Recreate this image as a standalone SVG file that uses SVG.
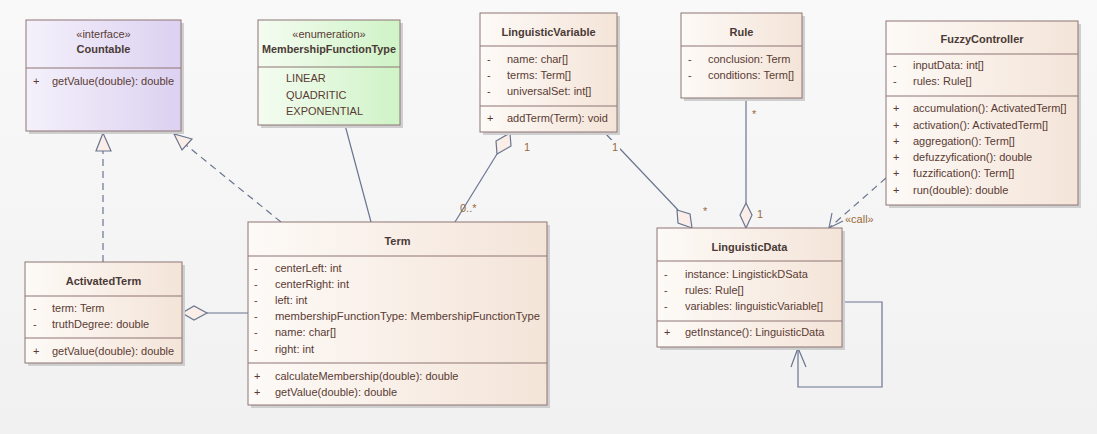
<svg xmlns="http://www.w3.org/2000/svg" width="1097" height="434" viewBox="0 0 1097 434">
<defs>
<linearGradient id="gc" x1="0" y1="0" x2="1" y2="0"><stop offset="0" stop-color="#fdfaf7"/><stop offset="1" stop-color="#f4e4d8"/></linearGradient>
<linearGradient id="gi" x1="0" y1="0" x2="1" y2="0"><stop offset="0" stop-color="#f4f1fb"/><stop offset="1" stop-color="#dcd1f1"/></linearGradient>
<linearGradient id="ge" x1="0" y1="0" x2="1" y2="0"><stop offset="0" stop-color="#f4fcf1"/><stop offset="1" stop-color="#cff3c6"/></linearGradient>
<linearGradient id="gb" x1="0" y1="0" x2="0" y2="1"><stop offset="0" stop-color="#f9f9f9"/><stop offset="1" stop-color="#f1f1f1"/></linearGradient>
<style>
.box{stroke:#8e7474;stroke-width:1}
.sh{fill:#cfcfcf}
.div{stroke:#8e7474;stroke-width:1}
text{font-family:"Liberation Sans",Arial,sans-serif;font-size:11px;fill:#5a3b33}
.t{font-weight:bold;text-anchor:middle;fill:#4a3a36}
.st{text-anchor:middle;fill:#5a3b33}
.lb{fill:#9a6a3a;font-size:11px}
.ln{stroke:#6a7590;stroke-width:1.2;fill:none}
.dash{stroke-dasharray:7,5}
.hd{stroke:#6a7590;stroke-width:1.2;fill:#fbeee8}
</style>
</defs>
<rect width="1097" height="434" fill="url(#gb)"/>

<g id="connectors">
<line class="ln dash" x1="103" y1="262" x2="103" y2="151"/>
<polygon class="hd" points="103,133 96,151 111,151"/>
<line class="ln dash" x1="281" y1="222" x2="186" y2="145"/>
<polygon class="hd" points="174,134 182,150 192,139"/>
<line class="ln" x1="371" y1="222" x2="345" y2="125"/>
<line class="ln" x1="497" y1="154" x2="455" y2="222"/>
<polygon class="hd" points="510,133 511,146 497,154 496,141"/>
<text class="lb" x="524" y="151">1</text>
<text class="lb" x="460" y="212">0..*</text>
<line class="ln" x1="605" y1="133" x2="678" y2="210"/>
<polygon class="hd" points="692,228 678,223 677,210 690,214"/>
<rect x="611" y="140" width="9" height="13" fill="#f6f6f6"/>
<text class="lb" x="612" y="151">1</text>
<text class="lb" x="703" y="215">*</text>
<line class="ln" x1="746" y1="99" x2="746" y2="203"/>
<polygon class="hd" points="746,228 740,215 746,203 752,215"/>
<text class="lb" x="752" y="118">*</text>
<text class="lb" x="757" y="218">1</text>
<line class="ln dash" x1="886" y1="178" x2="829" y2="228"/>
<polyline class="ln" points="832,213 829,228 843,221"/>
<text class="lb" x="845" y="223">«call»</text>
<line class="ln" x1="207" y1="313" x2="248" y2="313"/>
<polygon class="hd" points="182,313 194,306 207,313 194,320"/>
<polyline class="ln" points="842,302 882,302 882,387 798,387 798,348"/>
<polyline class="ln" points="791,367 798,348 806,367"/>
</g>

<g id="Countable">
<rect class="sh" x="29" y="23" width="155" height="111"/>
<rect class="box" x="26" y="20" width="155" height="111" fill="url(#gi)"/>
<line class="div" x1="26" y1="68" x2="181" y2="68"/>
<text class="st" x="103.5" y="38">«interface»</text>
<text class="t" x="103.5" y="53">Countable</text>
<text x="33" y="85">+</text><text x="52" y="85">getValue(double): double</text>
</g>

<g id="MembershipFunctionType">
<rect class="sh" x="261" y="23" width="142" height="105"/>
<rect class="box" x="258" y="20" width="142" height="105" fill="url(#ge)"/>
<line class="div" x1="258" y1="67" x2="400" y2="67"/>
<text class="st" x="329" y="38">«enumeration»</text>
<text class="t" x="329" y="53" textLength="134" lengthAdjust="spacingAndGlyphs">MembershipFunctionType</text>
<text x="286" y="82">LINEAR</text>
<text x="286" y="99">QUADRITIC</text>
<text x="286" y="115">EXPONENTIAL</text>
</g>

<g id="LinguisticVariable">
<rect class="sh" x="483" y="16" width="137" height="119"/>
<rect class="box" x="480" y="13" width="137" height="119" fill="url(#gc)"/>
<line class="div" x1="480" y1="46" x2="617" y2="46"/>
<line class="div" x1="480" y1="106" x2="617" y2="106"/>
<text class="t" x="548.5" y="36">LinguisticVariable</text>
<text x="487" y="63">-</text><text x="507" y="63">name: char[]</text>
<text x="487" y="79">-</text><text x="507" y="79">terms: Term[]</text>
<text x="487" y="95">-</text><text x="507" y="95">universalSet: int[]</text>
<text x="487" y="122">+</text><text x="507" y="122">addTerm(Term): void</text>
</g>

<g id="Rule">
<rect class="sh" x="684" y="16" width="121" height="85"/>
<rect class="box" x="681" y="13" width="121" height="85" fill="url(#gc)"/>
<line class="div" x1="681" y1="46" x2="802" y2="46"/>
<text class="t" x="741.5" y="36">Rule</text>
<text x="688" y="63">-</text><text x="708" y="63">conclusion: Term</text>
<text x="688" y="79">-</text><text x="708" y="79">conditions: Term[]</text>
</g>

<g id="FuzzyController">
<rect class="sh" x="889" y="24" width="192" height="184"/>
<rect class="box" x="886" y="21" width="192" height="184" fill="url(#gc)"/>
<line class="div" x1="886" y1="54" x2="1078" y2="54"/>
<line class="div" x1="886" y1="96" x2="1078" y2="96"/>
<text class="t" x="982" y="43">FuzzyController</text>
<text x="893" y="69">-</text><text x="913" y="69">inputData: int[]</text>
<text x="893" y="85">-</text><text x="913" y="85">rules: Rule[]</text>
<text x="893" y="112">+</text><text x="913" y="112">accumulation(): ActivatedTerm[]</text>
<text x="893" y="129">+</text><text x="913" y="129">activation(): ActivatedTerm[]</text>
<text x="893" y="145">+</text><text x="913" y="145">aggregation(): Term[]</text>
<text x="893" y="161">+</text><text x="913" y="161">defuzzyfication(): double</text>
<text x="893" y="177">+</text><text x="913" y="177">fuzzification(): Term[]</text>
<text x="893" y="194">+</text><text x="913" y="194">run(double): double</text>
</g>

<g id="Term">
<rect class="sh" x="251" y="225" width="299" height="183"/>
<rect class="box" x="248" y="222" width="299" height="183" fill="url(#gc)"/>
<line class="div" x1="248" y1="256" x2="547" y2="256"/>
<line class="div" x1="248" y1="363" x2="547" y2="363"/>
<text class="t" x="397.5" y="245">Term</text>
<text x="254" y="272">-</text><text x="275" y="272">centerLeft: int</text>
<text x="254" y="288">-</text><text x="275" y="288">centerRight: int</text>
<text x="254" y="304">-</text><text x="275" y="304">left: int</text>
<text x="254" y="320">-</text><text x="275" y="320" textLength="265" lengthAdjust="spacingAndGlyphs">membershipFunctionType: MembershipFunctionType</text>
<text x="254" y="336">-</text><text x="275" y="336">name: char[]</text>
<text x="254" y="353">-</text><text x="275" y="353">right: int</text>
<text x="254" y="380">+</text><text x="275" y="380">calculateMembership(double): double</text>
<text x="254" y="396">+</text><text x="275" y="396">getValue(double): double</text>
</g>

<g id="ActivatedTerm">
<rect class="sh" x="28" y="265" width="157" height="101"/>
<rect class="box" x="25" y="262" width="157" height="101" fill="url(#gc)"/>
<line class="div" x1="25" y1="296" x2="182" y2="296"/>
<line class="div" x1="25" y1="338" x2="182" y2="338"/>
<text class="t" x="103.5" y="285">ActivatedTerm</text>
<text x="33" y="312">-</text><text x="52" y="312">term: Term</text>
<text x="33" y="328">-</text><text x="52" y="328">truthDegree: double</text>
<text x="33" y="355">+</text><text x="52" y="355">getValue(double): double</text>
</g>

<g id="LinguisticData">
<rect class="sh" x="660" y="231" width="185" height="119"/>
<rect class="box" x="657" y="228" width="185" height="119" fill="url(#gc)"/>
<line class="div" x1="657" y1="261" x2="842" y2="261"/>
<line class="div" x1="657" y1="321" x2="842" y2="321"/>
<text class="t" x="749.5" y="251">LinguisticData</text>
<text x="664" y="278">-</text><text x="685" y="278">instance: LingistickDSata</text>
<text x="664" y="294">-</text><text x="685" y="294">rules: Rule[]</text>
<text x="664" y="310">-</text><text x="685" y="310">variables: linguisticVariable[]</text>
<text x="664" y="336">+</text><text x="685" y="336">getInstance(): LinguisticData</text>
</g>
</svg>
